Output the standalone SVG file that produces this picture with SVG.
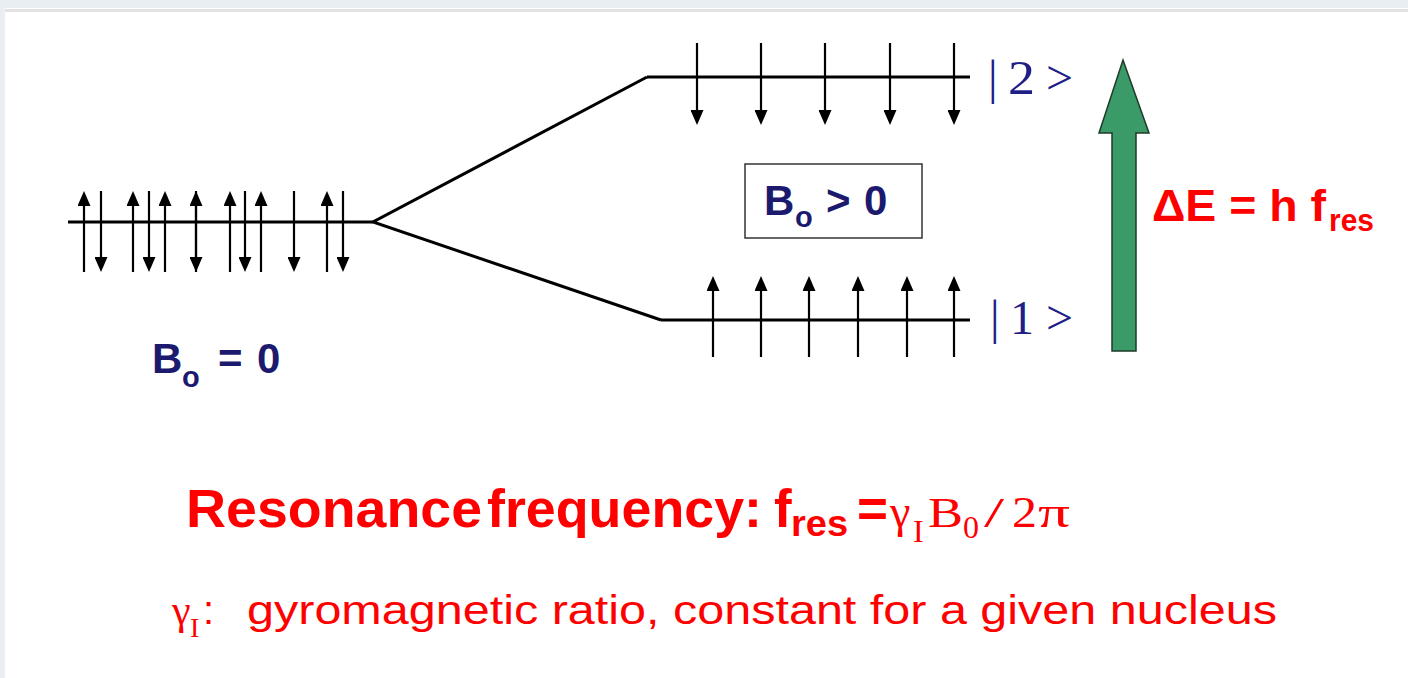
<svg xmlns="http://www.w3.org/2000/svg" width="1408" height="678" viewBox="0 0 1408 678">
  <defs>
    <marker id="ah" viewBox="0 0 15 13" markerWidth="15" markerHeight="13" refX="4" refY="6.5" orient="auto" markerUnits="userSpaceOnUse">
      <path d="M0,0 L15,6.5 L0,13 z" fill="#000"/>
    </marker>
    <style>
      .lvl { stroke:#000; stroke-width:3; fill:none; }
      .spin { stroke:#000; stroke-width:2.2; fill:none; marker-end:url(#ah); }
      .navy { fill:#1b1a6e; font-family:"Liberation Sans", Arial, sans-serif; font-weight:bold; }
      .ket { fill:#1f1f86; font-family:"Liberation Serif", "Times New Roman", serif; }
      .redb { fill:#ff0000; font-family:"Liberation Sans", Arial, sans-serif; font-weight:bold; }
      .reds { fill:#ff0000; font-family:"Liberation Serif", "Times New Roman", serif; }
      .redn { fill:#ff0000; font-family:"Liberation Sans", Arial, sans-serif; }
    </style>
  </defs>

  <!-- background / slide panel -->
  <rect x="0" y="0" width="1408" height="678" fill="#e9eef2"/>
  <rect x="3" y="8" width="1405" height="670" fill="#ffffff"/>
  <rect x="3" y="9" width="1405" height="3" fill="#e2e2e2"/>
  <rect x="3" y="8" width="2" height="670" fill="#eeeeee"/>

  <!-- connectors: level splitting -->
  <g id="connectors">
    <polyline class="lvl" points="647,77 373,222 661,320"/>
  </g>

  <!-- B0 = 0 level -->
  <g id="level-b0">
    <line class="lvl" x1="68" y1="222" x2="373" y2="222"/>
    <g>
      <line class="spin" x1="84" y1="272" x2="84" y2="202"/>
      <line class="spin" x1="133" y1="272" x2="133" y2="202"/>
      <line class="spin" x1="165" y1="272" x2="165" y2="202"/>
      <line class="spin" x1="196" y1="272" x2="196" y2="202"/>
      <line class="spin" x1="230" y1="272" x2="230" y2="202"/>
      <line class="spin" x1="261" y1="272" x2="261" y2="202"/>
      <line class="spin" x1="327" y1="272" x2="327" y2="202"/>
      <line class="spin" x1="101" y1="191" x2="101" y2="261"/>
      <line class="spin" x1="149" y1="191" x2="149" y2="261"/>
      <line class="spin" x1="196" y1="191" x2="196" y2="261"/>
      <line class="spin" x1="245" y1="191" x2="245" y2="261"/>
      <line class="spin" x1="294" y1="191" x2="294" y2="261"/>
      <line class="spin" x1="343" y1="191" x2="343" y2="261"/>
    </g>
    <text class="navy" x="152" y="373" font-size="42">B</text>
    <text class="navy" x="182" y="387" font-size="29">o</text>
    <text class="navy" x="218" y="373" font-size="42">=</text>
    <text class="navy" x="257" y="373" font-size="42">0</text>
  </g>

  <!-- |2> level -->
  <g id="level-2">
    <line class="lvl" x1="647" y1="77" x2="970" y2="77"/>
    <line class="spin" x1="697" y1="43" x2="697" y2="114"/>
    <line class="spin" x1="761" y1="43" x2="761" y2="114"/>
    <line class="spin" x1="825" y1="43" x2="825" y2="114"/>
    <line class="spin" x1="890" y1="43" x2="890" y2="114"/>
    <line class="spin" x1="954" y1="43" x2="954" y2="114"/>
    <text class="ket" x="988" y="94" font-size="48">|</text>
    <text class="ket" x="1008" y="94" font-size="48" textLength="27" lengthAdjust="spacingAndGlyphs">2</text>
    <text class="ket" x="1046" y="94" font-size="48">&gt;</text>
  </g>

  <!-- |1> level -->
  <g id="level-1">
    <line class="lvl" x1="661" y1="320" x2="970" y2="320"/>
    <line class="spin" x1="713" y1="357" x2="713" y2="287"/>
    <line class="spin" x1="761" y1="357" x2="761" y2="287"/>
    <line class="spin" x1="809" y1="357" x2="809" y2="287"/>
    <line class="spin" x1="858" y1="357" x2="858" y2="287"/>
    <line class="spin" x1="907" y1="357" x2="907" y2="287"/>
    <line class="spin" x1="954" y1="357" x2="954" y2="287"/>
    <text class="ket" x="990" y="334" font-size="48">|</text>
    <text class="ket" x="1010" y="334" font-size="48" textLength="24" lengthAdjust="spacingAndGlyphs">1</text>
    <text class="ket" x="1046" y="334" font-size="48">&gt;</text>
  </g>

  <!-- B0 > 0 box -->
  <g id="box-field">
    <rect x="745" y="164" width="177" height="74" fill="#ffffff" stroke="#333333" stroke-width="1.5"/>
    <text class="navy" x="764" y="215" font-size="42">B</text>
    <text class="navy" x="795" y="227" font-size="29">o</text>
    <text class="navy" x="826" y="215" font-size="42">&gt;</text>
    <text class="navy" x="864" y="215" font-size="42">0</text>
  </g>

  <!-- energy arrow -->
  <g id="energy-arrow">
    <polygon points="1123,60 1149,133 1136,133 1136,351 1112,351 1112,133 1099,133" fill="#3a9a68" stroke="#1e3a28" stroke-width="1.5" stroke-linejoin="miter"/>
    <text class="redb" x="1152" y="221" font-size="45" textLength="174" lengthAdjust="spacingAndGlyphs">ΔE = h f</text>
    <text class="redb" x="1329" y="231" font-size="31" textLength="45" lengthAdjust="spacingAndGlyphs">res</text>
  </g>

  <!-- resonance formula -->
  <g id="formula">
    <text class="redb" x="186" y="527" font-size="53" textLength="296" lengthAdjust="spacingAndGlyphs">Resonance</text>
    <text class="redb" x="487" y="527" font-size="53" textLength="275" lengthAdjust="spacingAndGlyphs">frequency:</text>
    <text class="redb" x="774" y="527" font-size="53">f</text>
    <text class="redb" x="791" y="536" font-size="36" textLength="57" lengthAdjust="spacingAndGlyphs">res</text>
    <text class="redb" x="857" y="527" font-size="53">=</text>
    <text class="reds" x="890" y="527" font-size="46">γ</text>
    <text class="reds" x="913" y="542" font-size="32">I</text>
    <text class="reds" x="928" y="527" font-size="42" textLength="35" lengthAdjust="spacingAndGlyphs">B</text>
    <text class="reds" x="963" y="538" font-size="32">0</text>
    <text class="reds" x="984" y="527" font-size="42" textLength="20" lengthAdjust="spacingAndGlyphs">/</text>
    <text class="reds" x="1012" y="527" font-size="44" textLength="25" lengthAdjust="spacingAndGlyphs">2</text>
    <text class="reds" x="1038" y="527" font-size="44" textLength="32" lengthAdjust="spacingAndGlyphs">π</text>
  </g>

  <!-- gyromagnetic note -->
  <g id="note">
    <text class="reds" x="172" y="624" font-size="42">γ</text>
    <text class="reds" x="190" y="637" font-size="28">I</text>
    <text class="redn" x="203" y="624" font-size="40">:</text>
    <text class="redn" x="247" y="624" font-size="40" textLength="1030" lengthAdjust="spacingAndGlyphs">gyromagnetic ratio, constant for a given nucleus</text>
  </g>
</svg>
